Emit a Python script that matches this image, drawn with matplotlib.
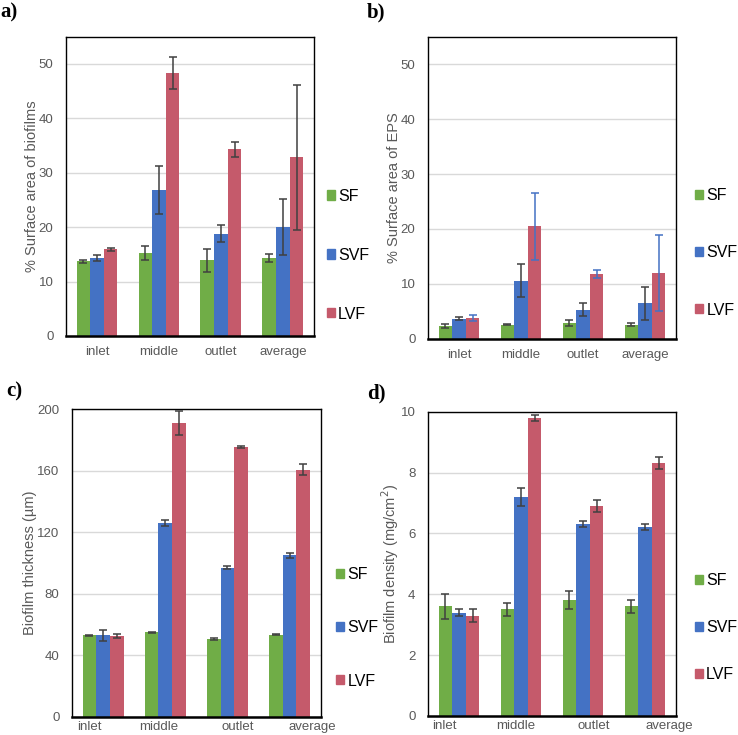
import matplotlib.pyplot as plt
from matplotlib.patches import Patch
import numpy as np

plt.rcParams["font.family"] = ["Liberation Sans", "DejaVu Sans"]

# Style parameters
COLORS = ["#70AD47", "#4472C4", "#C55A6B"]
TEXT_GRAY = "#595959"
ERR_GRAY = "#404040"
GRID = "#D9D9D9"

sites = ["inlet", "middle", "outlet", "average"]
series = ["SF", "SVF", "LVF"]

# a) % surface area of biofilms
area_mean = {
    "SF": [13.7, 15.3, 13.9, 14.3],
    "SVF": [14.3, 26.9, 18.8, 20.0],
    "LVF": [15.9, 48.3, 34.3, 32.8],
}
area_err = {
    "SF": [0.3, 1.3, 2.1, 0.8],
    "SVF": [0.6, 4.4, 1.6, 5.2],
    "LVF": [0.3, 2.9, 1.4, 13.3],
}

# b) % surface area of EPS
eps_mean = {
    "SF": [2.3, 2.6, 2.9, 2.6],
    "SVF": [3.7, 10.6, 5.3, 6.5],
    "LVF": [3.8, 20.5, 11.8, 12.0],
}
eps_err = {
    "SF": [0.4, 0.05, 0.5, 0.3],
    "SVF": [0.3, 3.0, 1.2, 3.0],
    "LVF": [0.5, 6.1, 0.7, 6.9],
}

# c) biofilm thickness (um)
thick_mean = {
    "SF": [53.0, 55.0, 50.5, 53.5],
    "SVF": [53.0, 126.0, 97.0, 105.0],
    "LVF": [52.5, 191.0, 175.5, 160.5],
}
thick_err = {
    "SF": [0.5, 0.5, 0.5, 0.5],
    "SVF": [3.5, 2.0, 0.8, 1.5],
    "LVF": [1.5, 8.0, 0.5, 3.5],
}

# d) biofilm density (mg/cm2)
dens_mean = {
    "SF": [3.6, 3.5, 3.8, 3.6],
    "SVF": [3.4, 7.2, 6.3, 6.2],
    "LVF": [3.3, 9.8, 6.9, 8.3],
}
dens_err = {
    "SF": [0.4, 0.2, 0.3, 0.2],
    "SVF": [0.1, 0.3, 0.1, 0.1],
    "LVF": [0.2, 0.1, 0.2, 0.2],
}


def panel(fig, rect, mean, err, ylim, yticks, ylabel, err_colors,
          label_shift=None, xpad=7, legend_pos=(1.06, 0.28), legend_gap=2.5):
    ax = fig.add_axes(rect)
    x = np.arange(len(sites))
    width = 0.22
    for i, s in enumerate(series):
        ax.bar(x + (i - 1) * width, mean[s], width, color=COLORS[i], zorder=2)
        ax.errorbar(x + (i - 1) * width, mean[s], yerr=err[s], fmt="none",
                    ecolor=err_colors[i], elinewidth=1.1, capsize=2.8,
                    capthick=1.1, zorder=3)
    ax.set_xlim(-0.5, len(sites) - 0.5)
    ax.set_ylim(*ylim)
    ax.set_yticks(yticks)
    ax.yaxis.grid(True, color=GRID, lw=1, zorder=0)
    ax.set_axisbelow(True)
    if label_shift is None:
        ax.set_xticks(x)
    else:
        ax.set_xticks(x + np.array(label_shift))
    ax.set_xticklabels(sites)
    ax.tick_params(axis="both", length=0, labelsize=9.5, labelcolor=TEXT_GRAY)
    ax.tick_params(axis="y", pad=9)
    ax.tick_params(axis="x", pad=xpad)
    for side in ["top", "left", "right"]:
        ax.spines[side].set_color("black")
        ax.spines[side].set_linewidth(1.0)
    ax.spines["bottom"].set_color("black")
    ax.spines["bottom"].set_linewidth(1.8)
    ax.set_ylabel(ylabel, fontsize=10.5, color=TEXT_GRAY, labelpad=0)
    handles = [Patch(color=COLORS[i], label=s) for i, s in enumerate(series)]
    ax.legend(handles=handles, loc="center left", bbox_to_anchor=legend_pos,
              frameon=False, fontsize=11.5, handlelength=0.5, handleheight=0.5,
              handletextpad=0.2, labelspacing=legend_gap, borderaxespad=0,
              borderpad=0)
    return ax


def main():
    fig = plt.figure(figsize=(7.38, 7.35), dpi=100)

    gray3 = [ERR_GRAY, ERR_GRAY, ERR_GRAY]

    panel(fig, [0.0894, 0.543, 0.336, 0.407], area_mean, area_err,
          (0, 55), range(0, 51, 10), "% Surface area of biofilms", gray3,
          legend_pos=(1.052, 0.27), legend_gap=2.75)
    panel(fig, [0.580, 0.539, 0.336, 0.411], eps_mean, eps_err,
          (0, 55), range(0, 51, 10), "% Surface area of EPS",
          [ERR_GRAY, ERR_GRAY, "#4472C4"],
          legend_pos=(1.078, 0.285), legend_gap=2.65)
    panel(fig, [0.0976, 0.0245, 0.337, 0.419], thick_mean, thick_err,
          (0, 200), range(0, 201, 40), "Biofilm thickness (\u00b5m)", gray3,
          label_shift=[-0.22, -0.1, 0.16, 0.37], xpad=3,
          legend_pos=(1.062, 0.29), legend_gap=2.4)
    panel(fig, [0.580, 0.0259, 0.336, 0.414], dens_mean, dens_err,
          (0, 10), range(0, 11, 2), "Biofilm density (mg/cm$^2$)", gray3,
          label_shift=[-0.23, -0.08, 0.18, 0.39], xpad=3,
          legend_pos=(1.076, 0.29), legend_gap=2.0)

    label = dict(fontsize=15, fontweight="bold", family="Liberation Serif",
                 va="center", ha="left")
    fig.text(0.001, 0.983, "a)", **label)
    fig.text(0.497, 0.983, "b)", **label)
    fig.text(0.008, 0.467, "c)", **label)
    fig.text(0.497, 0.465, "d)", **label)

    fig.savefig("out.png", dpi=100)
    plt.close(fig)


if __name__ == "__main__":
    main()
